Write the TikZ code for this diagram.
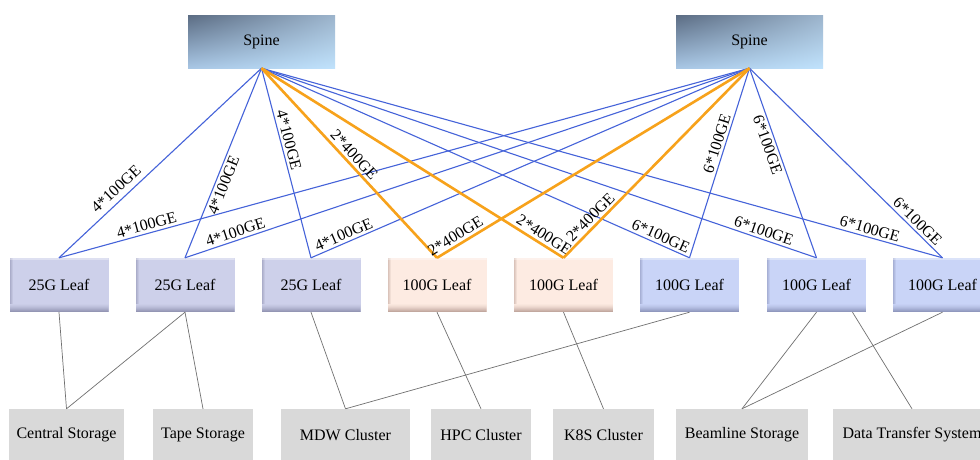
\documentclass[tikz,border=0pt]{standalone}
\usepackage{fontspec}
\setmainfont{Liberation Serif}
\usetikzlibrary{shadings}
\definecolor{lav}{HTML}{CDD0EA}
\definecolor{lavd}{HTML}{9496B4}
\definecolor{pch}{HTML}{FDEBE2}
\definecolor{pchd}{HTML}{C2A89F}
\definecolor{blu}{HTML}{C9D4F7}
\definecolor{blud}{HTML}{9098BE}
\definecolor{boxg}{HTML}{D9D9D9}
\definecolor{linkblue}{HTML}{4563D9}
\definecolor{linkorange}{HTML}{F7A21B}
\definecolor{linkgray}{HTML}{707070}
\definecolor{spUL}{HTML}{5B6C83}
\definecolor{spUR}{HTML}{9CB4CC}
\definecolor{spLL}{HTML}{A8C6E4}
\definecolor{spLR}{HTML}{C0E2FC}
\tikzset{
  spinebox/.style={minimum width=147pt, minimum height=53pt, inner sep=0pt,
    path picture={\shade[upper left=spUL, upper right=spUR, lower left=spLL, lower right=spLR]
      (path picture bounding box.south west) rectangle (path picture bounding box.north east);}},
  leafbox/.style 2 args={minimum width=99pt, minimum height=54pt, inner sep=0pt, fill=#1,
    path picture={
      \foreach \k/\m in {0/6,1/14,2/24,3/36,4/50,5/66,6/82,7/100}{
        \fill[#2!\m!#1] ([yshift={(7-\k)*1pt}]path picture bounding box.south west) rectangle ([yshift={(8-\k)*1pt}]path picture bounding box.south east);
      }
      \foreach \k/\m in {0/60,1/40,2/20}{
        \fill[#2!\m!#1] ([xshift={\k*1pt}, yshift=8pt]path picture bounding box.south west) rectangle ([xshift={(\k+1)*1pt}]path picture bounding box.north west);
      }
      \fill[white, opacity=0.35] ([yshift=-2pt]path picture bounding box.north west) rectangle (path picture bounding box.north east);
    }},
  sinkbox/.style={minimum height=52pt, inner sep=0pt, fill=boxg},
  bl/.style={draw=linkblue, line width=1.1pt},
  orl/.style={draw=linkorange, line width=2.6pt},
  gl/.style={draw=linkgray, line width=0.7pt},
  lab/.style={sloped, inner sep=2.5pt},
}
\begin{document}
\begin{tikzpicture}[x=1pt, y=-1pt, font=\fontsize{16}{19}\selectfont]
\clip (0,0) rectangle (980,459);
\fill[white] (0,0) rectangle (980,459);
% spines
\node[spinebox] (s1) at (261.5,41.5) {Spine};
\node[spinebox] (s2) at (749.5,41.5) {Spine};
% leaves
\node[leafbox={lav}{lavd}] (l1) at (59,285) {25G Leaf};
\node[leafbox={lav}{lavd}] (l2) at (185,285) {25G Leaf};
\node[leafbox={lav}{lavd}] (l3) at (311,285) {25G Leaf};
\node[leafbox={pch}{pchd}] (l4) at (437,285) {100G Leaf};
\node[leafbox={pch}{pchd}] (l5) at (563.5,285) {100G Leaf};
\node[leafbox={blu}{blud}] (l6) at (689.5,285) {100G Leaf};
\node[leafbox={blu}{blud}] (l7) at (816.5,285) {100G Leaf};
\node[leafbox={blu}{blud}] (l8) at (942.5,285) {100G Leaf};
% sinks
\node[sinkbox, minimum width=115pt] (cs) at (66.5,435) {Central Storage};
\node[sinkbox, minimum width=100pt] (ts) at (203,435) {Tape Storage};
\node[sinkbox, minimum width=129pt] (mdw) at (345.5,435) {MDW Cluster};
\node[sinkbox, minimum width=100pt] (hpc) at (481,435) {HPC Cluster};
\node[sinkbox, minimum width=101pt] (k8s) at (603.5,435) {K8S Cluster};
\node[sinkbox, minimum width=132pt] (bs) at (742,435) {Beamline Storage};
\node[sinkbox, minimum width=158pt] (dts) at (912,435) {Data Transfer System};
% spine 1 links
\draw[bl] (s1.south) -- node[lab, pos=0.68, above=3pt] {4*100GE} (l1.north);
\draw[bl] (s1.south) -- node[lab, pos=0.60, below] {4*100GE} (l2.north);
\draw[bl] (s1.south) -- node[lab, pos=0.39, above] {4*100GE} (l3.north);
\draw[bl] (s1.south) -- node[lab, pos=0.925, above] {6*100GE} (l6.north);
\draw[bl] (s1.south) -- node[lab, pos=0.90, above] {6*100GE} (l7.north);
\draw[bl] (s1.south) -- node[lab, pos=0.89, above] {6*100GE} (l8.north);
% spine 2 links
\draw[bl] (s2.south) -- node[lab, pos=0.87, above] {4*100GE} (l1.north);
\draw[bl] (s2.south) -- node[lab, pos=0.906, above] {4*100GE} (l2.north);
\draw[bl] (s2.south) -- node[lab, pos=0.918, above] {4*100GE} (l3.north);
\draw[bl] (s2.south) -- node[lab, pos=0.41, above] {6*100GE} (l6.north);
\draw[bl] (s2.south) -- node[lab, pos=0.39, below] {6*100GE} (l7.north);
\draw[bl] (s2.south) -- node[lab, pos=0.84, above] {6*100GE} (l8.north);
% orange links
\draw[orl] (s1.south) -- node[lab, pos=0.49, above] {2*400GE} (l4.north);
\draw[orl] (s1.south) -- node[lab, pos=0.92, above] {2*400GE} (l5.north);
\draw[orl] (s2.south) -- node[lab, pos=0.926, above] {2*400GE} (l4.north);
\draw[orl] (s2.south) -- node[lab, pos=0.82, above] {2*400GE} (l5.north);
% leaf to sink links
\draw[gl] (l1.south) -- (cs.north);
\draw[gl] (l2.south) -- (cs.north);
\draw[gl] (l2.south) -- (ts.north);
\draw[gl] (l3.south) -- (mdw.north);
\draw[gl] (l6.south) -- (mdw.north);
\draw[gl] (l4.south) -- (hpc.north);
\draw[gl] (l5.south) -- (k8s.north);
\draw[gl] (l7.south) -- (bs.north);
\draw[gl] (l8.south) -- (bs.north);
\draw[gl] ([xshift=36pt]l7.south) -- (dts.north);
\end{tikzpicture}
\end{document}
